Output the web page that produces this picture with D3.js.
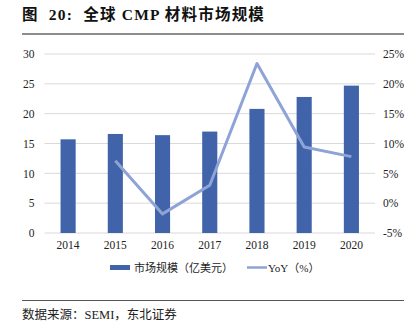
<!DOCTYPE html>
<html><head><meta charset="utf-8">
<script src="https://cdn.jsdelivr.net/npm/d3@7"></script>
<style>
body{margin:0;background:#fff;}
text{font-family:"Liberation Serif","Times New Roman","Noto Sans CJK SC",serif;white-space:pre;}
</style></head>
<body><svg id="c" width="416" height="332"></svg>
<script>
const years = ["2014","2015","2016","2017","2018","2019","2020"];
const marketSize = [15.7, 16.6, 16.4, 17.0, 20.8, 22.8, 24.7];
const yoyYears = ["2015","2016","2017","2018","2019","2020"];
const yoy = [7.1, -1.8, 3.0, 23.4, 9.4, 7.8];
const leftTicks = [0,5,10,15,20,25,30];
const rightTicks = [-5,0,5,10,15,20,25];

const svg = d3.select("#c");
const L=44.5, R=375, T=54, B=233;
const x = d3.scaleBand().domain(years).range([L,R]).paddingInner(0.68).paddingOuter(0.34);
const yL = d3.scaleLinear().domain([0,30]).range([B,T]);
const yR = d3.scaleLinear().domain([-5,25]).range([B,T]);

// title
svg.append("text").attr("x",22).attr("y",20).attr("font-size",15.5).attr("font-weight","bold")
  .attr("letter-spacing",1.2).attr("fill","#111").text("图  20:  全球 CMP 材料市场规模");
svg.append("line").attr("x1",22).attr("x2",404).attr("y1",34).attr("y2",34).attr("stroke","#8c8c8c").attr("stroke-width",2);

// grid
svg.append("g").selectAll("line").data(leftTicks).join("line")
  .attr("x1",L).attr("x2",R).attr("y1",d=>yL(d)).attr("y2",d=>yL(d))
  .attr("stroke","#d9d9d9").attr("stroke-width",1);

// left axis
const gl = svg.append("g").attr("transform",`translate(${L-4},0)`)
  .call(d3.axisLeft(yL).tickValues(leftTicks).tickSize(0).tickPadding(6));
gl.select(".domain").remove();
gl.selectAll("text").attr("font-size",11.5).attr("fill","#222").style("font-family","Liberation Serif");

// right axis
const gr = svg.append("g").attr("transform",`translate(${R+2},0)`)
  .call(d3.axisRight(yR).tickValues(rightTicks).tickSize(0).tickPadding(6).tickFormat(d=>d+"%"));
gr.select(".domain").remove();
gr.selectAll("text").attr("font-size",11.5).attr("fill","#222").style("font-family","Liberation Serif");

// bottom axis
const gb = svg.append("g").attr("transform",`translate(0,${B})`)
  .call(d3.axisBottom(x).tickSize(0).tickPadding(8));
gb.select(".domain").remove();
gb.selectAll("text").attr("font-size",11.5).attr("fill","#222").style("font-family","Liberation Serif");

// bars
svg.append("g").selectAll("rect").data(years).join("rect")
  .attr("x",d=>x(d)).attr("width",x.bandwidth())
  .attr("y",(d,i)=>yL(marketSize[i])).attr("height",(d,i)=>B-yL(marketSize[i]))
  .attr("fill","#4063a9");

// line
const line = d3.line().x((d,i)=>x(yoyYears[i])+x.bandwidth()/2).y(d=>yR(d));
svg.append("path").datum(yoy).attr("d",line).attr("fill","none")
  .attr("stroke","#8ea3d6").attr("stroke-width",3).attr("stroke-linejoin","round");

// legend
const lg = svg.append("g");
lg.append("rect").attr("x",110).attr("y",265).attr("width",20).attr("height",5).attr("fill","#4063a9");
lg.append("text").attr("x",134).attr("y",271.5).attr("font-size",11).attr("fill","#222").text("市场规模（亿美元）");
lg.append("line").attr("x1",247).attr("x2",267).attr("y1",267.5).attr("y2",267.5).attr("stroke","#8ea3d6").attr("stroke-width",2.5);
lg.append("text").attr("x",268).attr("y",271.5).attr("font-size",11).attr("fill","#222").text("YoY（%）");

// footer
svg.append("line").attr("x1",22).attr("x2",404).attr("y1",300.5).attr("y2",300.5).attr("stroke","#555").attr("stroke-width",1);
svg.append("text").attr("x",22).attr("y",319).attr("font-size",12.5).attr("fill","#222").text("数据来源：SEMI，东北证券");
</script></body></html>
